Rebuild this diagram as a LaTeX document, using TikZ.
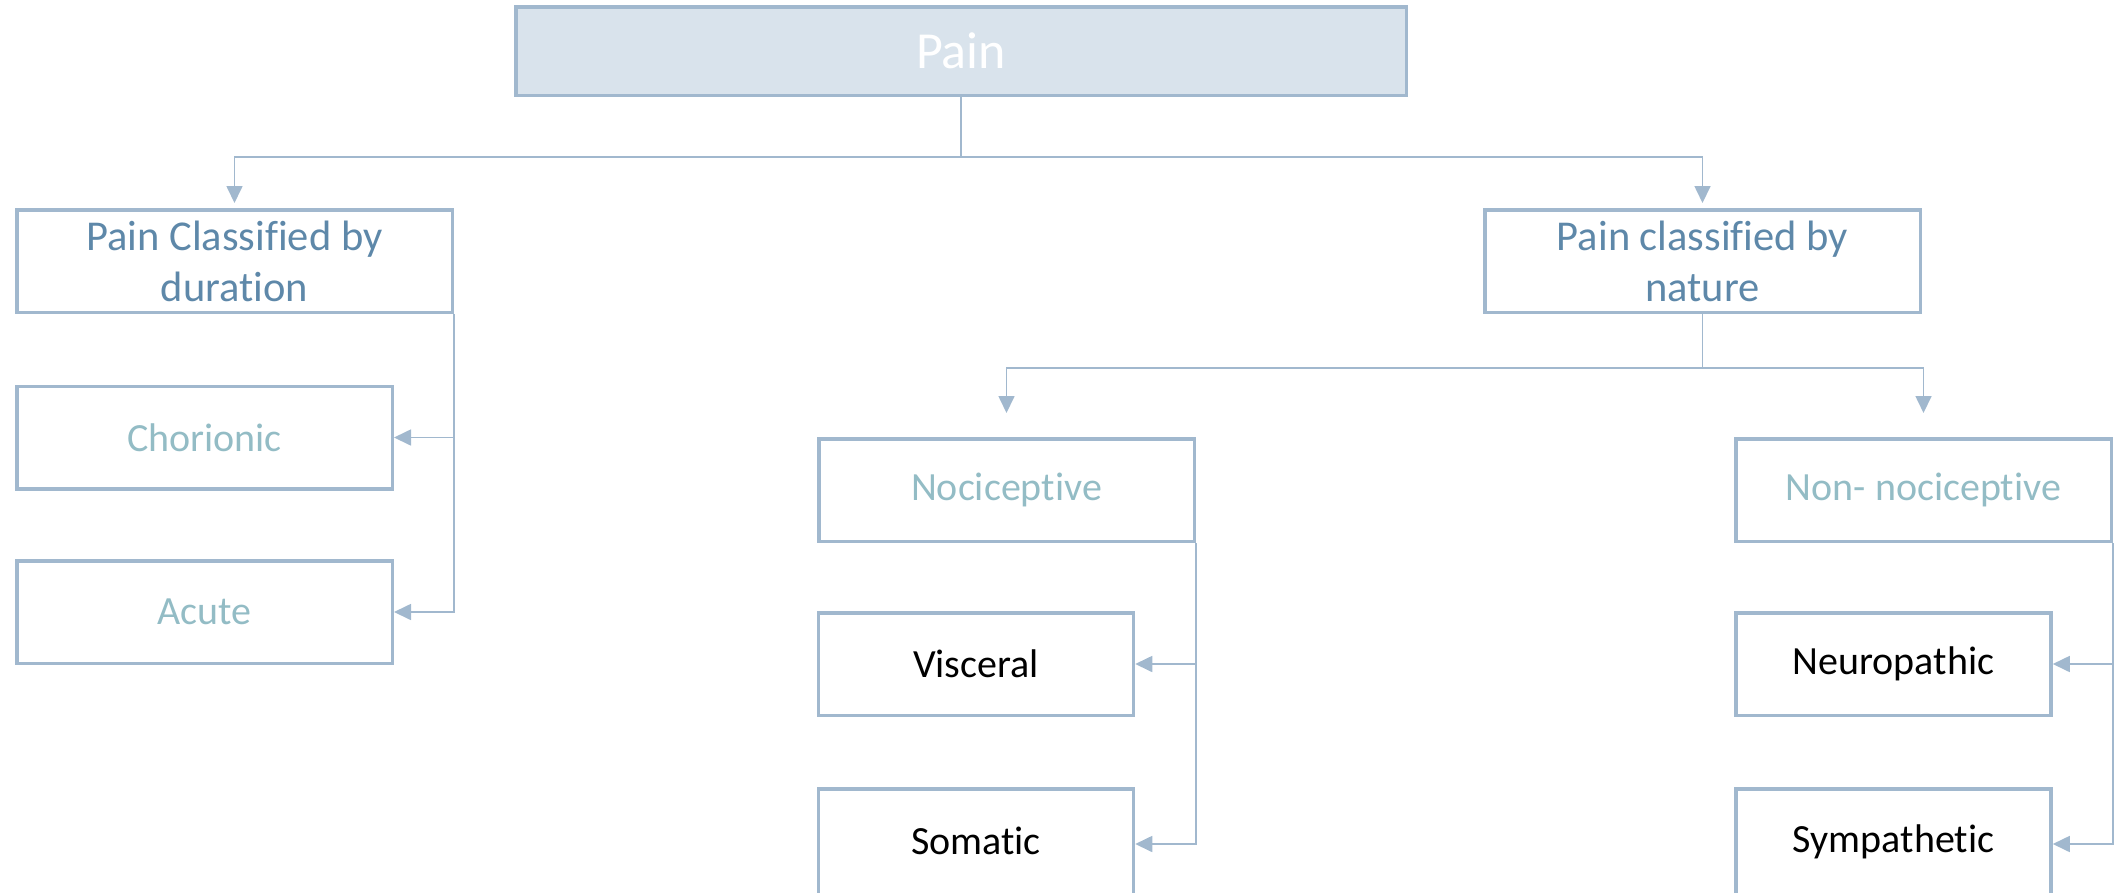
\documentclass[tikz,border=0pt]{standalone}
\usepackage{fontspec}
\setmainfont{Carlito}[Ligatures={NoCommon}]
\usetikzlibrary{arrows.meta}
\definecolor{bordc}{HTML}{A1B8CE}
\definecolor{painfill}{HTML}{D9E3EC}
\definecolor{headc}{HTML}{5E88A9}
\definecolor{subc}{HTML}{93BCC5}
\tikzset{
  box/.style={draw=bordc, line width=3.5pt, rectangle, align=center, inner sep=0pt},
  toplevel/.style={box, fill=painfill, text=white, minimum width=890.5pt, minimum height=88.5pt, font=\fontsize{52}{60}\selectfont},
  headbox/.style={box, text=headc, minimum width=435.5pt, minimum height=102.5pt, font=\fontsize{42.5}{51}\selectfont},
  subbox/.style={box, text=subc, minimum width=375.5pt, minimum height=102.5pt, font=\fontsize{40}{50}\selectfont},
  leafbox/.style={box, text=black, minimum width=315pt, minimum height=102.5pt, font=\fontsize{40}{50}\selectfont},
  conn/.style={draw=bordc, line width=1.7pt},
  arr/.style={conn, -{Triangle[length=17pt,width=16pt]}},
}
\begin{document}
\begin{tikzpicture}[x=1pt,y=-1pt]
\useasboundingbox (0,0) rectangle (2121,892);
\node[toplevel] (pain) at (961,51) {Pain};
\node[headbox] (dur) at (234.5,261) {Pain Classified by\\duration};
\node[headbox] (nat) at (1702.5,261) {Pain classified by\\nature};
\node[subbox] (chor) at (204.5,437.5) {Chorionic};
\node[subbox] (acute) at (204.5,612) {Acute};
\node[subbox] (noci) at (1006.5,490) {Nociceptive};
\node[subbox] (nonnoci) at (1923.5,490) {Non- nociceptive};
\node[leafbox] (visc) at (976,664) {Visceral};
\node[leafbox, minimum height=105.5pt] (soma) at (976,841.5) {\raisebox{2.5pt}{Somatic}};
\node[leafbox] (neuro) at (1893.5,664) {Neuropathic};
\node[leafbox, minimum height=105.5pt] (symp) at (1893.5,841.5) {\raisebox{2.5pt}{Sympathetic}};
\coordinate (j1) at (961,157);
\coordinate (j2) at (1702.5,368);
\draw[conn] (pain.south) -- (j1);
\draw[arr, shorten >=5pt] (j1) -| (dur.north);
\draw[arr, shorten >=5pt] (j1) -| (nat.north);
\draw[conn] (nat.south) -- (j2);
\draw[arr, shorten >=24pt] (j2) -| (noci.north);
\draw[arr, shorten >=24pt] (j2) -| (nonnoci.north);
\draw[arr] (dur.south east) |- (chor.east);
\draw[arr] (dur.south east) |- (acute.east);
\draw[arr] (noci.south east) |- (visc.east);
\draw[arr] (noci.south east) |- ([yshift=-2.5pt]soma.east);
\draw[arr] (nonnoci.south east) |- (neuro.east);
\draw[arr] (nonnoci.south east) |- ([yshift=-2.5pt]symp.east);
\end{tikzpicture}
\end{document}
